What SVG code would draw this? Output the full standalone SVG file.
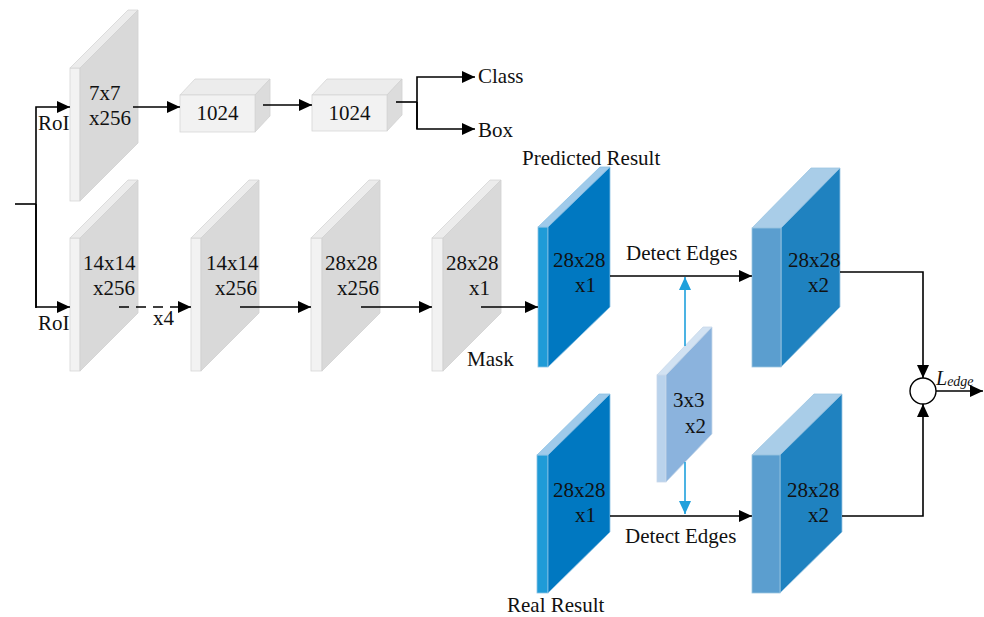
<svg xmlns="http://www.w3.org/2000/svg" width="984" height="617" viewBox="0 0 984 617" font-family="'Liberation Serif', 'Times New Roman', 'DejaVu Serif', serif">
<style>
text{font-family:'Liberation Serif','Times New Roman','DejaVu Serif',serif;font-size:21px;fill:#111}
.gs{fill:#f2f2f2;stroke:#d6d6d6;stroke-width:0.8}
.gt{fill:#ececec;stroke:#d6d6d6;stroke-width:0.8}
.gm{fill:#d9d9d9;stroke:#d0d0d0;stroke-width:0.8}
.bs{fill:#1f9bd7;stroke:#8cc2e4;stroke-width:0.8}
.bt{fill:#9fcaea;stroke:#8cc2e4;stroke-width:0.8}
.bm{fill:#0078c1;stroke:#8cc2e4;stroke-width:0.8}
.rs{fill:#5b9ecf;stroke:#9cc5e2;stroke-width:0.8}
.rt{fill:#a9cde8;stroke:#9cc5e2;stroke-width:0.8}
.rm{fill:#1f82c0;stroke:#9cc5e2;stroke-width:0.8}
.ks{fill:#bad3ec;stroke:#c8d8ea;stroke-width:0.8}
.kt{fill:#d2e2f2;stroke:#c8d8ea;stroke-width:0.8}
.km{fill:#8bb3dd;stroke:#c8d8ea;stroke-width:0.8}
.ln{fill:none;stroke:#000;stroke-width:1.6}
.ar{fill:none;stroke:#000;stroke-width:1.6;marker-end:url(#ah)}
.bl{fill:none;stroke:#1fa0dc;stroke-width:1.6;marker-end:url(#bh)}
</style>
<defs>
<marker id="ah" markerUnits="userSpaceOnUse" markerWidth="14" markerHeight="12" refX="13" refY="6" orient="auto">
<path d="M0,0 L13,6 L0,12 z" fill="#000"/>
</marker>
<marker id="bh" markerUnits="userSpaceOnUse" markerWidth="14" markerHeight="12" refX="13" refY="6" orient="auto">
<path d="M0,0 L13,6 L0,12 z" fill="#1fa0dc"/>
</marker>
</defs>

<g id="plate-7x7">
<rect class="gs" x="70" y="68" width="10" height="133"/>
<polygon class="gt" points="70,68 80,68 138,10 128,10"/>
<polygon class="gm" points="80,68 138,10 138,143 80,201"/>
<text x="89" y="100">7x7</text>
<text x="89" y="125">x256</text>
</g>

<g id="fc1">
<polygon class="gt" points="180,95 255,95 270,79 195,79"/>
<polygon class="gm" points="255,95 270,79 270,116 255,132" style="fill:#dcdcdc"/>
<rect class="gs" x="180" y="95" width="75" height="37"/>
<text x="217.5" y="120" text-anchor="middle">1024</text>
</g>

<g id="fc2">
<polygon class="gt" points="312,95 387,95 402,79 327,79"/>
<polygon class="gm" points="387,95 402,79 402,115 387,131" style="fill:#dcdcdc"/>
<rect class="gs" x="312" y="95" width="75" height="36"/>
<text x="349.5" y="120" text-anchor="middle">1024</text>
</g>

<g id="plate-14a">
<rect class="gs" x="70" y="238" width="10" height="133"/>
<polygon class="gt" points="70,238 80,238 138,180 128,180"/>
<polygon class="gm" points="80,238 138,180 138,313 80,371"/>
<text x="83" y="270">14x14</text>
<text x="93" y="295">x256</text>
</g>

<g id="plate-14b">
<rect class="gs" x="191" y="238" width="10" height="133"/>
<polygon class="gt" points="191,238 201,238 259,180 249,180"/>
<polygon class="gm" points="201,238 259,180 259,313 201,371"/>
<text x="206" y="270">14x14</text>
<text x="215" y="295">x256</text>
</g>

<g id="plate-28a">
<rect class="gs" x="311" y="238" width="11" height="133"/>
<polygon class="gt" points="311,238 322,238 380,180 369,180"/>
<polygon class="gm" points="322,238 380,180 380,313 322,371"/>
<text x="325" y="270">28x28</text>
<text x="337" y="295">x256</text>
</g>

<g id="plate-mask">
<rect class="gs" x="432" y="238" width="11" height="133"/>
<polygon class="gt" points="432,238 443,238 501,180 490,180"/>
<polygon class="gm" points="443,238 501,180 501,313 443,371"/>
<text x="446" y="270">28x28</text>
<text x="469" y="295">x1</text>
<text x="467" y="366">Mask</text>
</g>

<g id="predicted">
<rect class="bs" x="538" y="227" width="10" height="140"/>
<polygon class="bt" points="538,227 548,227 610,167 600,167"/>
<polygon class="bm" points="548,227 610,167 610,307 548,367"/>
<text x="553" y="267">28x28</text>
<text x="575" y="292">x1</text>
<text x="522" y="165">Predicted Result</text>
</g>

<g id="real">
<rect class="bs" x="537" y="455" width="11" height="138"/>
<polygon class="bt" points="537,455 548,455 610,394 599,394"/>
<polygon class="bm" points="548,455 610,394 610,532 548,593"/>
<text x="553" y="497">28x28</text>
<text x="575" y="522">x1</text>
<text x="507" y="612">Real Result</text>
</g>

<g id="edge-pred">
<polygon class="rt" points="752,228 781,228 840,168 811,168"/>
<polygon class="rm" points="781,228 840,168 840,307 781,367"/>
<rect class="rs" x="752" y="228" width="29" height="139"/>
<text x="788" y="267">28x28</text>
<text x="808" y="292">x2</text>
</g>

<g id="edge-real">
<polygon class="rt" points="752,455 780,455 842,394 814,394"/>
<polygon class="rm" points="780,455 842,394 842,532 780,593"/>
<rect class="rs" x="752" y="455" width="28" height="138"/>
<text x="787" y="497">28x28</text>
<text x="808" y="522">x2</text>
</g>

<g id="kernel">
<rect class="ks" x="657" y="375" width="9" height="107"/>
<polygon class="kt" points="657,375 666,375 712,327 703,327"/>
<polygon class="km" points="666,375 712,327 712,434 666,482"/>
<text x="673" y="407">3x3</text>
<text x="685" y="433">x2</text>
</g>

<g id="sum">
<circle cx="923" cy="391" r="13" fill="#fff" stroke="#000" stroke-width="1.4"/>
<text x="936" y="385" style="font-style:italic;font-size:20px">L<tspan style="font-size:14px" dy="1">edge</tspan></text>
</g>

<g id="connectors">
<polyline class="ln" points="15,204 36,204"/>
<polyline class="ar" points="36,308 36,107 70,107"/>
<text x="38" y="130">RoI</text>
<polyline class="ar" points="36,204 36,307 70,307"/>
<text x="38" y="330">RoI</text>
<line class="ar" x1="133" y1="107" x2="180" y2="107"/>
<line class="ar" x1="263" y1="105" x2="312" y2="105"/>
<polyline class="ln" points="396,102 417,102"/>
<polyline class="ar" points="417,129 417,77 475,77"/>
<polyline class="ar" points="417,102 417,129 475,129"/>
<text x="478" y="83">Class</text>
<text x="478" y="137">Box</text>
<line class="ar" x1="119" y1="307" x2="191" y2="307" stroke-dasharray="10,7"/>
<text x="153" y="325">x4</text>
<line class="ar" x1="240" y1="307" x2="311" y2="307"/>
<line class="ar" x1="361" y1="307" x2="432" y2="307"/>
<line class="ar" x1="481" y1="307" x2="538" y2="307"/>
<line class="ar" x1="610" y1="276" x2="752" y2="276"/>
<text x="626" y="260">Detect Edges</text>
<line class="ar" x1="610" y1="516" x2="752" y2="516"/>
<text x="625" y="543">Detect Edges</text>
<line class="bl" x1="685" y1="346" x2="685" y2="277"/>
<line class="bl" x1="685" y1="462" x2="685" y2="514"/>
<polyline class="ar" points="840,272 923,272 923,378"/>
<polyline class="ar" points="842,516 923,516 923,404"/>
<line class="ar" x1="936" y1="391" x2="983" y2="391"/>
</g>
</svg>
